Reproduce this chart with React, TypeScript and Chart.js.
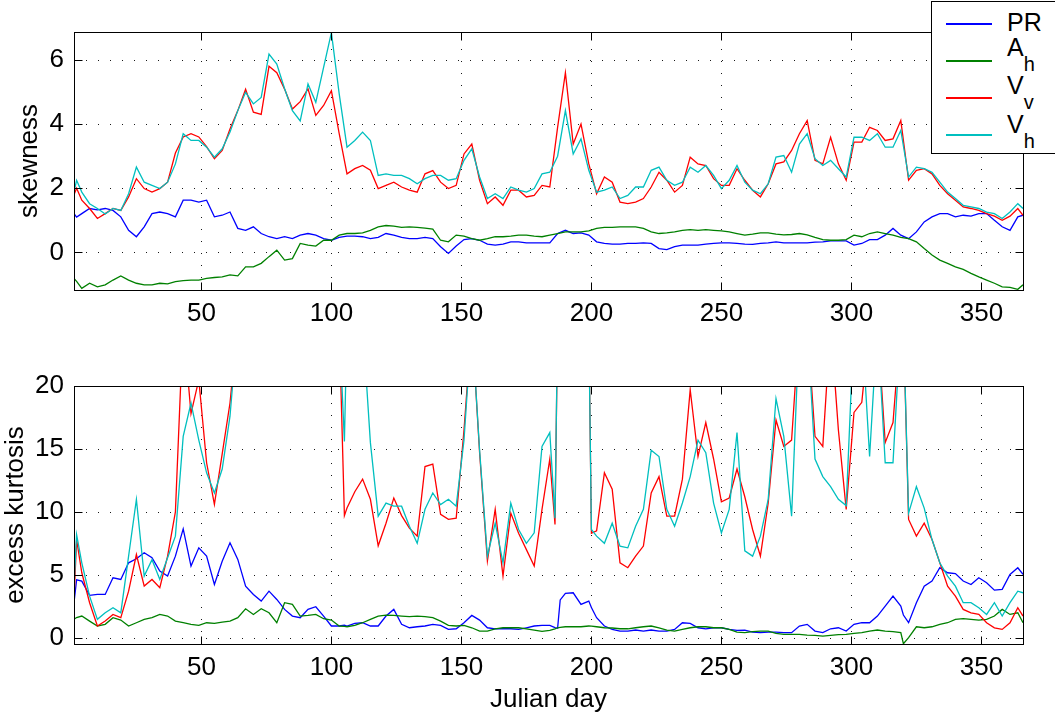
import React, { useEffect, useRef } from 'react';
import { Chart, registerables } from 'chart.js';

Chart.register(...registerables);

// ---------- data ----------
const seriesNames = ['PR', 'A', 'V', 'V'];
const seriesSubs = ['', 'h', 'v', 'h'];
const seriesColors = ['#0000ff', '#008000', '#ff0000', '#00bfbf'];

const xTickValues = [50, 100, 150, 200, 250, 300, 350];
const skewTickValues = [0, 2, 4, 6];
const kurtTickValues = [0, 5, 10, 15, 20];

const topDays = [
  1, 2, 4, 7, 10, 13, 16, 19, 22, 25,
  28, 31, 34, 37, 40, 43, 46, 49, 52, 55,
  58, 61, 64, 67, 70, 73, 76, 79, 82, 85,
  88, 91, 94, 97, 100, 103, 106, 109, 112, 115,
  118, 121, 124, 127, 130, 133, 136, 139, 142, 145,
  148, 151, 154, 157, 160, 163, 166, 169, 172, 175,
  178, 181, 184, 187, 190, 193, 196, 199, 202, 205,
  208, 211, 214, 217, 220, 223, 226, 229, 232, 235,
  238, 241, 244, 247, 250, 253, 256, 259, 262, 265,
  268, 271, 274, 277, 280, 283, 286, 289, 292, 295,
  298, 301, 304, 307, 310, 313, 316, 319, 322, 325,
  328, 331, 334, 337, 340, 343, 346, 349, 352, 355,
  358, 361, 364, 366,
];

const skewPR = [
  1.21, 1.1, 1.21, 1.37, 1.33, 1.37, 1.31, 1.11, 0.69, 0.49,
  0.8, 1.21, 1.26, 1.21, 1.11, 1.63, 1.63, 1.57, 1.63, 1.11,
  1.16, 1.26, 0.75, 0.69, 0.8, 0.59, 0.49, 0.43, 0.49, 0.43,
  0.54, 0.59, 0.54, 0.43, 0.38, 0.47, 0.51, 0.51, 0.49, 0.43,
  0.47, 0.59, 0.54, 0.47, 0.43, 0.43, 0.47, 0.43, 0.18, -0.03,
  0.2, 0.4, 0.43, 0.38, 0.26, 0.23, 0.26, 0.33, 0.33, 0.3,
  0.3, 0.3, 0.3, 0.59, 0.69, 0.59, 0.61, 0.54, 0.33, 0.28,
  0.26, 0.26, 0.28, 0.28, 0.3, 0.28, 0.12, 0.09, 0.18, 0.23,
  0.23, 0.23, 0.26, 0.28, 0.3, 0.3, 0.28, 0.26, 0.25, 0.28,
  0.3, 0.33, 0.3, 0.3, 0.3, 0.3, 0.32, 0.33, 0.36, 0.36,
  0.36, 0.23, 0.28, 0.4, 0.4, 0.54, 0.75, 0.54, 0.43, 0.64,
  0.95, 1.11, 1.21, 1.21, 1.11, 1.16, 1.13, 1.21, 1.21, 1.0,
  0.8, 0.69, 1.11, 1.16,
];

const skewAh = [
  -0.81, -0.9, -1.12, -0.96, -1.07, -1.01, -0.86, -0.73, -0.86, -0.96,
  -1.01, -1.01, -0.96, -0.98, -0.91, -0.88, -0.86, -0.86, -0.81, -0.78,
  -0.76, -0.7, -0.73, -0.45, -0.45, -0.34, -0.13, 0.07, -0.24, -0.19,
  0.28, 0.23, 0.2, 0.38, 0.38, 0.54, 0.59, 0.59, 0.61, 0.69,
  0.8, 0.84, 0.82, 0.78, 0.8, 0.78, 0.76, 0.73, 0.38, 0.33,
  0.54, 0.51, 0.43, 0.38, 0.43, 0.49, 0.49, 0.51, 0.54, 0.54,
  0.51, 0.49, 0.54, 0.59, 0.64, 0.64, 0.64, 0.67, 0.75, 0.78,
  0.78, 0.8, 0.8, 0.8, 0.75, 0.64, 0.59, 0.61, 0.64, 0.69,
  0.71, 0.69, 0.71, 0.69, 0.67, 0.64, 0.59, 0.54, 0.57, 0.61,
  0.61, 0.57, 0.55, 0.56, 0.59, 0.55, 0.47, 0.4, 0.38, 0.38,
  0.4, 0.54, 0.49, 0.59, 0.64, 0.59, 0.54, 0.47, 0.43, 0.33,
  0.12, -0.08, -0.24, -0.34, -0.45, -0.53, -0.65, -0.76, -0.86, -0.96,
  -1.07, -1.09, -1.15, -1.01,
];

const skewVv = [
  1.8, 2.0, 1.63, 1.37, 1.06, 1.21, 1.37, 1.31, 1.73, 2.3,
  1.99, 1.88, 1.99, 2.19, 3.1, 3.6, 3.7, 3.6, 3.3, 2.92,
  3.18, 3.85, 4.42, 5.09, 4.37, 4.3, 5.8, 5.6, 5.09, 4.47,
  4.7, 5.1, 4.27, 4.58, 5.04, 3.7, 2.45, 2.61, 2.71, 2.56,
  1.99, 2.09, 2.19, 2.04, 1.94, 1.88, 2.45, 2.55, 2.19, 1.99,
  2.09, 3.07, 3.38, 2.25, 1.52, 1.73, 1.47, 1.94, 1.94, 1.73,
  1.78, 2.09, 2.04, 3.9, 5.6, 3.38, 4.0, 2.76, 1.83, 2.35,
  2.19, 1.57, 1.52, 1.57, 1.68, 2.04, 2.5, 2.25, 1.88, 2.09,
  2.97, 2.76, 2.71, 2.3, 2.09, 2.09, 2.61, 2.25, 1.94, 1.73,
  2.14, 2.76, 2.82, 3.18, 3.7, 4.11, 2.87, 2.76, 3.59, 2.76,
  2.25, 3.44, 3.44, 3.9, 3.8, 3.49, 3.54, 4.11, 2.25, 2.56,
  2.61, 2.45, 2.09, 1.83, 1.63, 1.42, 1.37, 1.31, 1.21, 1.13,
  1.0, 1.13, 1.37, 1.16,
];

const skewVh = [
  1.88, 2.25, 1.88, 1.52, 1.37, 1.2, 1.37, 1.31, 1.83, 2.66,
  2.19, 2.09, 1.99, 2.19, 2.76, 3.7, 3.49, 3.49, 3.28, 2.97,
  3.23, 3.75, 4.42, 4.99, 4.63, 4.83, 6.18, 5.87, 5.1, 4.42,
  4.1, 5.25, 4.68, 5.77, 6.85, 4.94, 3.28, 3.49, 3.75, 3.49,
  2.4, 2.45, 2.4, 2.4, 2.3, 2.14, 2.3, 2.4, 2.4, 2.25,
  2.3, 2.87, 3.23, 2.35, 1.68, 1.83, 1.68, 2.04, 1.94, 1.88,
  1.99, 2.45, 2.5, 3.0, 4.42, 3.07, 3.54, 2.56, 1.88, 1.94,
  2.04, 1.68, 1.78, 2.04, 2.04, 2.56, 2.66, 2.25, 2.09, 2.19,
  2.66, 2.5, 2.71, 2.4, 1.99, 2.25, 2.71, 2.19, 1.94, 1.83,
  2.14, 2.97, 3.02, 2.5, 3.38, 3.7, 2.92, 2.71, 2.87, 2.61,
  2.35, 3.59, 3.59, 3.49, 3.7, 3.28, 3.28, 3.8, 2.35, 2.66,
  2.61, 2.5, 2.19, 1.88, 1.68, 1.47, 1.42, 1.37, 1.26, 1.21,
  1.06, 1.26, 1.52, 1.37,
];

const bottomDays = [
  1, 2,
  4, 7, 10, 13, 16, 19, 22, 25, 28, 31,
  34, 37, 40, 43, 46, 49, 52, 55, 58, 61,
  64, 67, 70, 73, 76, 79, 82, 85, 88, 91,
  94, 97, 100, 103,
  105,
  106, 109, 112, 115, 118, 121, 124, 127, 130, 133,
  136, 139, 142, 145, 148, 151, 154, 157, 160, 163,
  166, 169, 172, 175, 178, 181, 184,
  186, 187, 188,
  190, 193, 196, 199,
  200,
  202, 205, 208, 211, 214, 217, 220, 223, 226, 229,
  232, 235, 238, 241, 244, 247, 250, 253, 256, 259,
  262, 265, 268, 271, 274, 277, 280, 283, 286, 289,
  292, 295, 298, 301, 304, 307, 310, 313, 316, 319,
  320,
  322, 325, 328, 331, 334, 337, 340, 343, 346, 349,
  352, 355, 358, 361, 364,
  366,
];

const kurtPR = [
  2.78, 4.6,
  4.5, 3.36, 3.44, 3.44, 4.76, 4.63, 5.95, 6.27, 6.75, 6.35,
  5.29, 4.9, 6.48, 8.65, 5.69, 7.14, 6.48, 4.23, 6.08, 7.54,
  6.22, 4.1, 3.44, 2.91, 3.7, 3.04, 2.25, 1.72, 1.59, 2.25,
  2.46, 1.72, 0.93, 0.93,
  1.0,
  0.93, 1.14, 1.19, 0.93, 0.93, 1.72, 2.25, 1.06, 0.79, 0.87,
  0.93, 1.06, 0.98, 0.66, 0.71, 1.19, 1.77, 1.4, 0.79, 0.71,
  0.71, 0.71, 0.66, 0.79, 0.93, 0.98, 0.98,
  0.8, 0.75, 3.0,
  3.52, 3.57, 2.65, 2.91,
  2.4,
  1.59, 0.93, 0.66, 0.53, 0.53, 0.61, 0.53, 0.61, 0.53, 0.53,
  0.66, 1.19, 1.14, 0.79, 0.71, 0.79, 0.79, 0.66, 0.58, 0.61,
  0.45, 0.4, 0.45, 0.45, 0.4, 0.4, 0.93, 1.06, 0.53, 0.4,
  0.71, 0.79, 0.53, 1.06, 1.19, 1.19, 1.72, 2.51, 3.31, 2.51,
  1.8,
  1.19, 2.78, 4.1, 4.5, 5.56, 5.16, 5.1, 4.5, 4.23, 4.76,
  4.37, 3.78, 3.84, 5.03, 5.56,
  5.03,
];

const kurtAh = [
  1.46, 1.6,
  1.72, 1.32, 0.93, 1.06, 1.59, 1.4, 0.93, 1.19, 1.46, 1.59,
  1.85, 1.72, 1.32, 1.19, 1.06, 0.98, 1.19, 1.14, 1.24, 1.32,
  1.59, 2.3, 1.85, 2.3, 1.98, 1.19, 2.78, 2.65, 1.72, 1.77,
  1.85, 1.51, 1.4, 0.93,
  0.9,
  0.87, 0.98, 1.19, 1.46, 1.72, 1.8, 1.77, 1.72, 1.67, 1.72,
  1.67, 1.59, 1.32, 0.98, 0.93, 0.98, 0.79, 0.53, 0.53, 0.71,
  0.79, 0.79, 0.79, 0.71, 0.61, 0.5, 0.58,
  0.7, 0.79, 0.82,
  0.87, 0.87, 0.87, 0.93,
  0.92,
  0.87, 0.79, 0.77, 0.71, 0.71, 0.79, 0.87, 0.93, 0.79, 0.61,
  0.53, 0.66, 0.79, 0.87, 0.87, 0.79, 0.79, 0.66, 0.45, 0.4,
  0.48, 0.53, 0.53, 0.34, 0.26, 0.26, 0.26, 0.21, 0.19, 0.13,
  0.19, 0.24, 0.26, 0.34, 0.4, 0.53, 0.61, 0.53, 0.48, 0.4,
  -0.48,
  0.0, 0.87, 0.79, 0.87, 1.06, 1.19, 1.46, 1.51, 1.46, 1.4,
  1.46, 1.72, 2.25, 1.85, 1.98,
  1.19,
];

const kurtVv = [
  3.0, 7.8,
  5.16, 2.78, 0.93, 1.32, 1.85, 1.59, 3.7, 6.61, 4.1, 4.63,
  3.97, 6.48, 10.0, 25, 17.8, 20.5, 13.9, 10.6, 14.6, 18.65,
  25, 25, 25, 25, 25, 25, 25, 25, 25, 25,
  25, 25, 25, 25,
  9.7,
  10.3, 11.6, 12.6, 11.0, 7.3, 9.1, 11.1, 9.7, 8.7, 8.07,
  13.6, 13.8, 9.8, 9.4, 9.5, 16.5, 25, 14.7, 6.1, 10.2,
  4.9, 9.9, 8.3, 7.0, 5.7, 10.2, 14.2,
  9.0, 25, 25,
  25, 25, 25, 25,
  8.3,
  8.5, 13.1, 11.8, 5.95, 5.56, 6.48, 7.28, 11.5, 12.8, 9.66,
  9.66, 12.6, 19.7, 14.4, 17.1, 14.2, 10.8, 11.1, 13.4, 11.2,
  8.6, 6.48, 10.7, 17.3, 15.2, 15.7, 25, 25, 16.0, 15.2,
  25, 16.5, 10.2, 17.9, 18.7, 25, 25, 15.5, 17.1, 25,
  25,
  9.4, 8.07, 9.1, 7.8, 5.95, 4.1, 3.3, 2.25, 1.98, 1.85,
  1.19, 0.79, 0.66, 1.19, 2.38,
  1.72,
];

const kurtVh = [
  4.1, 8.2,
  5.95, 3.3, 1.46, 1.98, 2.38, 1.98, 6.48, 10.98, 4.9, 6.2,
  4.63, 6.35, 8.07, 16.0, 18.65, 15.7, 13.1, 11.5, 13.4, 17.6,
  25, 25, 25, 25, 25, 25, 25, 25, 25, 25,
  25, 25, 25, 25,
  15.6,
  25, 25, 25, 15.5, 9.66, 10.7, 10.45, 10.45, 8.86, 7.5,
  10.2, 11.5, 10.58, 11.0, 10.45, 15.7, 25, 14.9, 6.48, 9.1,
  5.95, 10.7, 8.6, 7.5, 8.33, 15.2, 16.3,
  9.5, 25, 25,
  25, 25, 25, 25,
  8.6,
  8.07, 7.5, 9.1, 7.28, 7.14, 8.86, 10.2, 14.9, 14.4, 10.2,
  8.86, 10.7, 12.8, 15.7, 14.7, 10.7, 8.33, 10.2, 16.3, 6.9,
  6.48, 8.07, 11.0, 19.0, 16.0, 9.66, 25, 25, 14.2, 12.8,
  12.0, 11.0, 10.5, 25, 25, 14.4, 25, 13.9, 13.9, 25,
  25,
  9.9, 12.0, 10.3, 7.8, 5.95, 4.9, 4.1, 2.78, 2.78, 2.38,
  1.85, 2.78, 1.72, 2.78, 3.7,
  3.57,
];

// ---------- chart helpers ----------
const FONT = '"Liberation Sans", Arial, Helvetica, sans-serif';

const matlabAxesPlugin = {
  id: 'matlabAxes',
  beforeDatasetsDraw(chart: any) {
    const { ctx, chartArea, scales } = chart;
    const { left, right, top, bottom } = chartArea;
    ctx.save();
    ctx.lineWidth = 1;
    ctx.strokeStyle = 'rgba(0,0,0,0.9)';
    ctx.setLineDash([1, 11]);
    scales.x.ticks.forEach((t: any) => {
      const px = Math.round(scales.x.getPixelForValue(t.value)) + 0.5;
      ctx.beginPath();
      ctx.moveTo(px, bottom);
      ctx.lineTo(px, top);
      ctx.stroke();
    });
    scales.y.ticks.forEach((t: any) => {
      const py = Math.round(scales.y.getPixelForValue(t.value)) + 0.5;
      ctx.beginPath();
      ctx.moveTo(left, py);
      ctx.lineTo(right, py);
      ctx.stroke();
    });
    ctx.restore();
  },
  afterDatasetsDraw(chart: any) {
    const { ctx, chartArea, scales } = chart;
    const L = Math.round(chartArea.left) + 0.5;
    const R = Math.round(chartArea.right) + 0.5;
    const T = Math.round(chartArea.top) + 0.5;
    const B = Math.round(chartArea.bottom) + 0.5;
    const tl = 8;
    ctx.save();
    ctx.setLineDash([]);
    ctx.lineWidth = 1;
    ctx.strokeStyle = '#000';
    ctx.strokeRect(L, T, R - L, B - T);
    ctx.beginPath();
    scales.x.ticks.forEach((t: any) => {
      const px = Math.round(scales.x.getPixelForValue(t.value)) + 0.5;
      ctx.moveTo(px, B);
      ctx.lineTo(px, B - tl);
      ctx.moveTo(px, T);
      ctx.lineTo(px, T + tl);
    });
    scales.y.ticks.forEach((t: any) => {
      const py = Math.round(scales.y.getPixelForValue(t.value)) + 0.5;
      ctx.moveTo(L, py);
      ctx.lineTo(L + tl, py);
      ctx.moveTo(R, py);
      ctx.lineTo(R - tl, py);
    });
    ctx.stroke();
    ctx.restore();
  },
};

function buildDatasets(days: number[], series: number[][]) {
  return series.map((vals, i) => ({
    label: seriesNames[i] + seriesSubs[i],
    data: days.map((d, j) => ({ x: d, y: vals[j] })),
    borderColor: seriesColors[i],
    backgroundColor: seriesColors[i],
    borderWidth: 1.3,
    pointRadius: 0,
    tension: 0,
    fill: false,
    order: 4 - i,
  }));
}

function buildConfig(opts: {
  days: number[];
  series: number[][];
  yMin: number;
  yMax: number;
  yTicks: number[];
  yTitle: string;
  yTitlePad: number;
  padTop: number;
  xHeight: number;
  xTitle: string | null;
}): any {
  const tickFont = { family: FONT, size: 26 };
  const titleFont = { family: FONT, size: 26 };
  return {
    type: 'line',
    data: { datasets: buildDatasets(opts.days, opts.series) },
    options: {
      animation: false,
      responsive: false,
      devicePixelRatio: 1,
      parsing: true,
      layout: { padding: { top: opts.padTop, right: 32, bottom: 0, left: 0 } },
      plugins: { legend: { display: false }, tooltip: { enabled: false } },
      scales: {
        x: {
          type: 'linear',
          min: 1,
          max: 366,
          afterBuildTicks: (s: any) => {
            s.ticks = xTickValues.map((v) => ({ value: v }));
          },
          afterFit: (s: any) => {
            s.height = opts.xHeight;
          },
          grid: { display: false, drawTicks: false },
          border: { display: false },
          ticks: { font: tickFont, color: '#000', padding: 8, maxRotation: 0, autoSkip: false },
          title: opts.xTitle
            ? { display: true, text: opts.xTitle, font: titleFont, color: '#000', padding: { top: 0, bottom: 4 } }
            : { display: false },
        },
        y: {
          type: 'linear',
          min: opts.yMin,
          max: opts.yMax,
          afterBuildTicks: (s: any) => {
            s.ticks = opts.yTicks.map((v) => ({ value: v }));
          },
          afterFit: (s: any) => {
            s.width = 74;
          },
          grid: { display: false, drawTicks: false },
          border: { display: false },
          ticks: { font: tickFont, color: '#000', padding: 10, autoSkip: false },
          title: {
            display: true,
            text: opts.yTitle,
            font: titleFont,
            color: '#000',
            padding: { top: opts.yTitlePad, bottom: 0 },
          },
        },
      },
    },
    plugins: [matlabAxesPlugin],
  };
}

function Legend() {
  const lineYs = [23, 60, 97, 134];
  const textTops = [9, 34, 72, 110.5];
  return (
    <div
      style={{
        position: 'absolute',
        left: 931,
        top: 1,
        width: 200,
        height: 153,
        boxSizing: 'border-box',
        border: '1px solid #000',
        background: '#fff',
      }}
    >
      {seriesNames.map((name, i) => (
        <React.Fragment key={i}>
          <div
            style={{
              position: 'absolute',
              left: 14,
              top: lineYs[i] - 1 - 1,
              width: 46,
              height: 1.5,
              background: seriesColors[i],
            }}
          />
          <div
            style={{
              position: 'absolute',
              left: 75,
              top: textTops[i] - 1,
              fontFamily: FONT,
              fontSize: 25,
              lineHeight: '25px',
              color: '#000',
              whiteSpace: 'nowrap',
            }}
          >
            {name}
            {seriesSubs[i] ? (
              <span style={{ fontSize: 20, position: 'relative', top: 15 }}>{seriesSubs[i]}</span>
            ) : null}
          </div>
        </React.Fragment>
      ))}
    </div>
  );
}

export default function App() {
  const topRef = useRef<HTMLCanvasElement>(null);
  const botRef = useRef<HTMLCanvasElement>(null);

  useEffect(() => {
    const top = new Chart(
      topRef.current as HTMLCanvasElement,
      buildConfig({
        days: topDays,
        series: [skewPR, skewAh, skewVv, skewVh],
        yMin: -1.17,
        yMax: 6.87,
        yTicks: skewTickValues,
        yTitle: 'skewness',
        yTitlePad: 14,
        padTop: 32,
        xHeight: 45,
        xTitle: null,
      })
    );
    const bottom = new Chart(
      botRef.current as HTMLCanvasElement,
      buildConfig({
        days: bottomDays,
        series: [kurtPR, kurtAh, kurtVv, kurtVh],
        yMin: -0.5,
        yMax: 20,
        yTicks: kurtTickValues,
        yTitle: 'excess kurtosis',
        yTitlePad: 0,
        padTop: 51,
        xHeight: 75,
        xTitle: 'Julian day',
      })
    );
    return () => {
      top.destroy();
      bottom.destroy();
    };
  }, []);

  return (
    <div
      style={{
        position: 'absolute',
        left: 0,
        top: 0,
        width: 1055,
        height: 719,
        overflow: 'hidden',
        background: '#fff',
      }}
    >
      <canvas ref={topRef} width={1055} height={335} style={{ position: 'absolute', left: 0, top: 0 }} />
      <canvas ref={botRef} width={1055} height={384} style={{ position: 'absolute', left: 0, top: 335 }} />
      <Legend />
    </div>
  );
}
